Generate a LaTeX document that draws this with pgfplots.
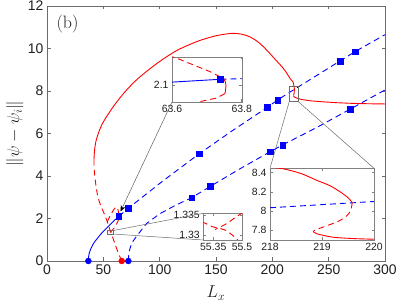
\documentclass[border=0pt]{standalone}
\usepackage{fontspec}
\usepackage{pgfplots}
\pgfplotsset{compat=1.18}
\usetikzlibrary{arrows.meta}
\newfontfamily\arialf{Liberation Sans}
\definecolor{axgray}{gray}{0.42}
\definecolor{lblack}{gray}{0.12}
\tikzset{mydash/.style={dash pattern=on 6bp off 4bp}}
\pgfplotsset{
  inset/.style={scale only axis, anchor=south west,
    axis background/.style={fill=white},
    axis line style={draw=axgray!85},
    tick style={draw=axgray!85, line width=0.5bp},
    major tick length=2.5bp,
    tick label style={font=\arialf\fontsize{10.5}{12}\selectfont, text=lblack},
    scaled ticks=false, clip=true}
}
\begin{document}
\begin{tikzpicture}
\path[use as bounding box] (0,0) rectangle (399bp,307bp);
\begin{axis}[
  at={(47bp,46bp)}, anchor=south west, scale only axis,
  width=338bp, height=255bp,
  xmin=0, xmax=300, ymin=0, ymax=12,
  xtick={0,50,100,150,200,250,300}, xticklabels={0,50,100,150,200,250,300},
  ytick={0,2,4,6,8,10,12}, yticklabels={0,2,4,6,8,10,12},
  axis line style={draw=axgray, line width=0.6bp},
  tick style={draw=axgray, line width=0.6bp},
  major tick length=3.5bp,
  tick label style={font=\arialf\fontsize{14}{16}\selectfont, text=lblack},
  xlabel={$L_x$}, ylabel={$\|\psi-\psi_i\|$},
  label style={font=\fontsize{18}{20}\selectfont, text=lblack},
  xlabel style={at={(axis description cs:0.5,-0.1255)}, anchor=center},
  ylabel style={at={(axis description cs:-0.095,0.5)}, anchor=center},
  clip=false,
]
% red big branch, dashed part
\addplot[red, line width=0.9bp, mydash] coordinates {
(66.3,0) (63.5,0.35) (61,0.7) (58.5,1.08) (56,1.45) (53.5,1.85) (51,2.2) (48.5,2.5)
(46.5,2.78) (45,3.05) (43.7,3.45) (42.6,3.9) (41.9,4.3) (41.7,4.55)};
% red big branch, solid arc
\addplot[red, line width=0.9bp, smooth] coordinates {
(41.7,4.55) (41.8,4.9) (42.3,5.25) (43.3,5.6) (45.5,6.0) (49,6.45) (53,6.8) (58,7.2)
(63.3,7.58) (70.7,8.05) (80,8.55) (91.4,9.05) (103,9.5) (115,9.9) (125,10.15)
(135.8,10.38) (150,10.6) (163.9,10.71) (172,10.68) (180,10.55) (188,10.28)
(194.9,9.93) (202,9.52) (209.7,9.07) (213.5,8.78) (216,8.57) (217.5,8.48)
(218.25,8.44) (218.9,8.32) (219.35,8.2) (219.58,8.09)};
\addplot[red, line width=0.9bp, mydash] coordinates {
(219.58,8.09) (219.45,7.94) (219.1,7.85) (218.83,7.79)};
\addplot[red, line width=0.9bp] coordinates {
(218.83,7.79) (219.2,7.73) (220,7.708) (222,7.66) (226,7.6) (233.4,7.54) (245,7.49)
(257,7.45) (270,7.42) (285,7.40) (300,7.39)};
% red secondary branch
\addplot[red, line width=0.9bp, mydash] coordinates {
(53.5,1.85) (55,2.02) (57,2.22) (59,2.4) (60.5,2.5) (61.5,2.54) (62.5,2.5) (63.2,2.38)
(63.6,2.23) (63.75,2.1) (63.6,1.98) (63,1.87) (61.5,1.72) (59.5,1.55) (57.5,1.42) (55.4,1.33)};
% blue branch 1
\addplot[blue, line width=0.9bp, smooth] coordinates {
(36.7,0) (36.9,0.2) (37.5,0.37) (38.5,0.52) (40,0.7) (42,0.88) (44.5,1.05) (48,1.28)
(51.5,1.47) (55,1.66) (59,1.87) (63.74,2.1)};
\addplot[blue, line width=0.9bp, mydash] coordinates {
(63.74,2.1) (72.2,2.48) (100,3.65) (134.9,5.04) (165,6.15) (195.5,7.23) (204.7,7.58)
(219,8.06) (240,8.75) (260,9.41) (273.3,9.85) (300,10.65)};
% blue branch 2
\addplot[blue, line width=0.9bp, mydash] coordinates {
(72.2,0) (72.5,0.25) (73.2,0.5) (74.5,0.72) (76.6,0.95) (80,1.2) (84,1.47) (88.5,1.77)
(100,2.22) (114,2.62) (128.4,2.98) (144.6,3.5) (170,4.3) (197.9,5.14) (209.1,5.46)
(240,6.3) (268.9,7.14) (300,8.05)};
% squares
\addplot[only marks, mark=square*, mark size=2.8bp, blue, mark options={fill=blue}] coordinates {
(63.74,2.1) (72.2,2.48) (134.9,5.04) (195.5,7.23) (204.7,7.58) (260,9.41) (273.3,9.85)
(128.4,2.98) (144.6,3.53) (197.9,5.14) (209.1,5.46) (268.9,7.14)};
% circles
\addplot[only marks, mark=*, mark size=3bp, blue] coordinates {(36.7,0) (72.2,0)};
\addplot[only marks, mark=*, mark size=3bp, red] coordinates {(66.3,0)};
% zoom rectangles
\draw[axgray, line width=0.5bp] (axis cs:53.5,1.27) rectangle (axis cs:58.5,1.43);
\draw[axgray, line width=0.5bp] (axis cs:215,7.5) rectangle (axis cs:223,8.24);
\coordinate (r2a) at (axis cs:58.5,1.43);
\coordinate (r2b) at (axis cs:58.5,1.27);
\coordinate (r3a) at (axis cs:215,7.5);
\coordinate (r3b) at (axis cs:223,7.5);
\coordinate (tip) at (axis cs:65.3,2.33);
\node[font=\fontsize{18}{20}\selectfont, text=lblack] at (axis description cs:0.0607,0.929) {(b)};
\end{axis}

% inset 1
\begin{axis}[inset, at={(172bp,205bp)}, width=69.7bp, height=45bp,
  xmin=63.6, xmax=63.8, ymin=2.07, ymax=2.15,
  xtick={63.6,63.8}, xticklabels={63.6,63.8}, ytick={2.1}, yticklabels={2.1}]
\addplot[blue, line width=0.9bp] coordinates {(63.55,2.1035) (63.739,2.1104)};
\addplot[blue, line width=0.9bp, mydash] coordinates {(63.739,2.1104) (63.85,2.1124)};
\addplot[red, line width=0.9bp, mydash] coordinates {
(63.59,2.152) (63.613,2.148) (63.661,2.136) (63.709,2.124) (63.738,2.115) (63.747,2.112)};
\addplot[red, line width=0.9bp, smooth] coordinates {
(63.747,2.112) (63.753,2.106) (63.755,2.100) (63.754,2.093) (63.752,2.085)};
\addplot[red, line width=0.9bp, mydash] coordinates {
(63.752,2.085) (63.728,2.077) (63.675,2.07) (63.65,2.067)};
\addplot[only marks, mark=square*, mark size=2.8bp, blue] coordinates {(63.739,2.1104)};
\end{axis}

% inset 2
\begin{axis}[inset, at={(203.3bp,67bp)}, width=38.7bp, height=26.7bp,
  xmin=55.298, xmax=55.5, ymin=1.3288, ymax=1.3354,
  xtick={55.35,55.5}, xticklabels={55.35,55.5}, ytick={1.33,1.335}, yticklabels={1.33,1.335}]
\addplot[red, line width=0.9bp, mydash, smooth] coordinates {
(55.29,1.3333) (55.31,1.3329) (55.345,1.3321) (55.39,1.3316) (55.415,1.3312) (55.45,1.3300) (55.48,1.3287)};
\addplot[red, line width=0.9bp, mydash, smooth] coordinates {
(55.505,1.3356) (55.46,1.3342) (55.425,1.3330) (55.39,1.3321) (55.36,1.3314)};
\end{axis}

% inset 3
\begin{axis}[inset, at={(270bp,67bp)}, width=104bp, height=71.7bp,
  xmin=218, xmax=220, ymin=7.70, ymax=8.445,
  xtick={218,219,220}, xticklabels={218,219,220},
  ytick={7.8,8,8.2,8.4}, yticklabels={7.8,8,8.2,8.4}]
\addplot[blue, line width=0.9bp, mydash] coordinates {(218,8.035) (220,8.10)};
\addplot[red, line width=0.9bp, smooth] coordinates {
(217.9,8.46) (218.25,8.44) (218.6,8.39) (218.9,8.32) (219.15,8.265) (219.35,8.2) (219.5,8.14) (219.58,8.09)};
\addplot[red, line width=0.9bp, mydash, smooth] coordinates {
(219.58,8.09) (219.55,8.0) (219.45,7.94) (219.3,7.89) (219.1,7.85) (218.9,7.81) (218.83,7.79)};
\addplot[red, line width=0.9bp, smooth] coordinates {
(218.83,7.79) (218.9,7.765) (219.2,7.73) (219.6,7.715) (220,7.708)};
\end{axis}

% connectors
\draw[axgray, line width=0.5bp] (r2a) -- (203.3bp,93.7bp);
\draw[axgray, line width=0.5bp] (r2b) -- (203.3bp,67bp);
\draw[axgray, line width=0.5bp] (r3a) -- (270bp,138.7bp);
\draw[axgray, line width=0.5bp] (r3b) -- (374bp,138.7bp);
\draw[axgray!90!black, line width=0.5bp, -{Stealth[black,length=6bp,width=5bp]}] (172bp,205bp) -- (tip);
\end{tikzpicture}
\end{document}
